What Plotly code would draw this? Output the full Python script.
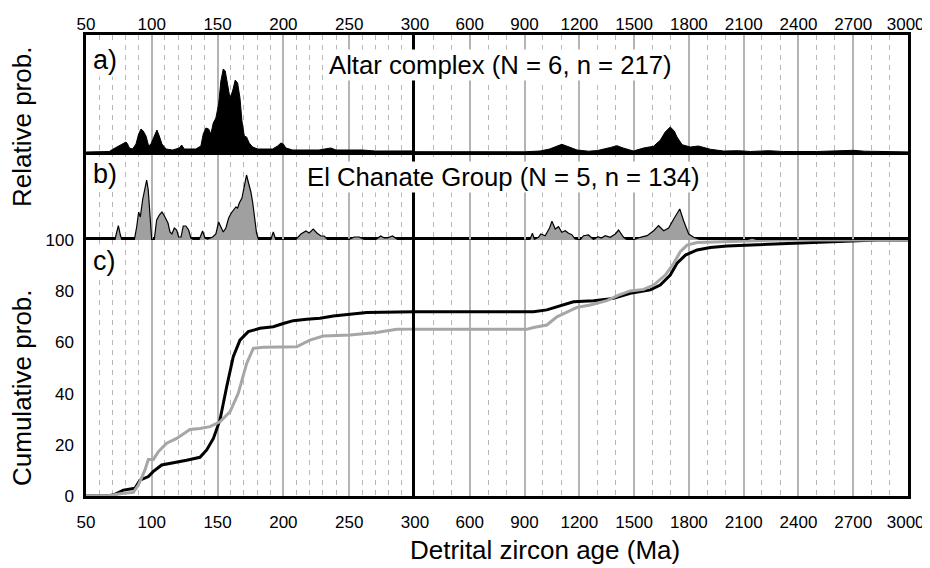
import plotly.graph_objects as go

# ---------------- data ----------------
LEFT_TICKS = [50, 100, 150, 200, 250, 300]
RIGHT_TICKS = [600, 900, 1200, 1500, 1800, 2100, 2400, 2700, 3000]
CUM_TICKS = [0, 20, 40, 60, 80, 100]

# a) Altar complex - relative probability (arbitrary units)
ALTAR_AGE = [50, 67.7, 70.3, 75.3, 77.8, 79.1, 80.4, 81.6, 82.9, 85.4,
             88.0, 90.0, 91.8, 93.5, 95.6, 97.6, 99.4, 101.9, 103.9, 105.7,
             107.7, 110.8, 115.8, 120.9, 122.7, 124.7, 128.5, 133.5, 137.3, 139.1,
             141.1, 143.2, 144.9, 146.7, 148.7, 150.8, 152.5, 154.3, 155.8, 157.6,
             159.4, 161.4, 163.4, 165.2, 167.0, 168.5, 170.3, 172.0, 174.0, 176.6,
             180.4, 186.7, 191.8, 195.6, 198.1, 199.9, 201.9, 207, 217, 227,
             236, 240, 250, 260, 270, 290, 300,
             900, 985, 1037, 1080, 1104, 1130, 1188, 1250, 1300, 1370,
             1406, 1440, 1496, 1552, 1606, 1643, 1670, 1698, 1720, 1735,
             1763, 1808, 1852, 1918, 1990, 2071, 2137, 2236, 2318, 2500,
             2650, 2702, 2760, 2850, 3000]
ALTAR_PDP = [0, 0.5, 2.7, 6, 8, 9, 10, 8, 4, 3,
             8, 18, 23, 21, 16, 6, 8, 16, 22, 16,
             8, 3, 2, 4, 7, 3, 3, 3, 6, 18,
             24, 23, 18, 29, 34, 48, 71, 83, 81, 68,
             54, 61, 72, 69, 54, 31, 16, 15, 9, 5,
             3, 3, 3, 6, 9, 8, 4, 2, 2, 2,
             4, 2, 2, 2, 1, 0.5, 0.3,
             0.2, 1, 3, 6, 7.7, 6, 2, 0.8, 1.5, 4.5,
             6.3, 4, 1, 4, 5.7, 11.7, 20, 25, 21, 15,
             7.3, 5, 6, 2.7, 1, 1.3, 0.5, 1.3, 0.5, 0.5,
             1, 1.7, 0.8, 0.3, 0.1]

# b) El Chanate Group - relative probability (arbitrary units)
CHAN_AGE = [50, 72.0, 72.8, 74.6, 76.1, 77.3, 86.7, 88.5, 90.0, 91.3,
            93.0, 94.8, 96.1, 97.3, 98.6, 99.9, 101.9, 103.7, 105.7, 107.7,
            109.2, 110.8, 112.3, 113.8, 115.3, 117.1, 118.9, 120.4, 122.2, 123.9,
            125.9, 128.0, 129.7, 132.3, 136.1, 138.6, 140.4, 142.4, 146.2, 148.7,
            150.8, 152.5, 154.3, 156.3, 158.4, 160.4, 162.2, 163.9, 165.2, 166.5,
            168.5, 170.3, 172.0, 173.5, 175.3, 176.6, 177.8, 179.6, 181.1, 190.5,
            192.3, 194.3, 209.5, 213.3, 217.1, 219.6, 222.7, 225.4, 228.5, 231.0,
            233.5, 250.0, 253.8, 257.6, 261.4, 270.3, 274.0, 276.6, 279.1, 282.9,
            286.7, 300,
            920, 930.7, 943, 954, 976, 989, 1013, 1037, 1050, 1068,
            1086, 1104, 1123, 1141, 1159, 1177, 1205, 1223, 1250, 1278,
            1302, 1320, 1342, 1369, 1397, 1415, 1442, 1461, 1497, 1534,
            1571, 1607, 1634, 1662, 1689, 1717, 1750, 1771, 1799, 1826,
            1863, 2119, 2146, 2174, 3000]
CHAN_PDP = [0, 0, 5, 14.3, 5, 0, 0, 13, 28, 23,
            40, 50, 60, 50, 25, 0.7, 0.7, 20, 25, 28,
            25, 21, 17, 8, 6, 12, 10, 3, 3, 14,
            14, 10, 2, 0, 0.7, 9, 2, 1, 3, 6,
            18, 13, 8, 12, 22, 27, 30, 33, 32, 37,
            42, 55, 65, 57, 48, 38, 27, 7, 0.7, 0.7,
            8, 0, 0.7, 6, 9, 7, 11, 7, 4, 4,
            0.7, 0.7, 3, 3, 0.7, 0.7, 4, 2, 2, 4,
            0.7, 0,
            0, 1, 6.7, 0.7, 2.7, 6, 4.3, 12, 18.7, 11,
            13.3, 7.7, 9.3, 6.7, 5.3, 1, 0.3, 4.3, 5, 0.5,
            3.3, 2, 4.3, 2.7, 6, 10, 2.7, 0.3, 0.3, 2.7,
            4.3, 9.3, 14.3, 9.3, 12, 21, 31, 19.3, 6, 2.7,
            0.3, 0.3, 2, 0.3, 0]

# c) cumulative probability (%)
ALTAR_CUM_AGE = [50, 65, 70.8, 78.4, 87.2, 91, 97.4, 101, 107.5, 116.3,
                 126.5, 136.6, 141.7, 146.8, 151.8, 156.9, 161.9, 167, 173.3, 182.2,
                 192.3, 199.9, 207.5, 217.7, 227.8, 237.9, 263.3, 300, 949, 1022,
                 1095, 1168, 1278, 1387, 1479, 1589, 1643, 1698, 1735, 1781,
                 1845, 1918, 2009, 2192, 2375, 2558, 2722, 2832, 3000]
ALTAR_CUM = [0, 0, 0.4, 2.3, 3, 6.2, 7.6, 9.5, 12.1, 13.1,
             14, 15.1, 18, 22.5, 29.7, 42.7, 54.4, 60.9, 64.2, 65.5,
             66.1, 67.4, 68.5, 69, 69.4, 70.3, 71.7, 72, 72, 72.7,
             74.2, 75.9, 76.3, 77.2, 79.2, 80.5, 82.4, 86.3, 90.9, 94.1,
             96.1, 97.1, 97.7, 98.2, 98.7, 99, 99.5, 100, 100]

CHAN_CUM_AGE = [50, 65, 70.8, 77.1, 86, 89.8, 94.8, 97.4, 101.2, 105,
                111.3, 118.9, 129, 136.6, 144.2, 151.8, 159.4, 165.7, 172.1, 177.1,
                184.7, 210, 220.2, 230.3, 250.6, 270.9, 286.1, 300, 912, 949,
                1022, 1077, 1132, 1187, 1260, 1351, 1415, 1479, 1552, 1607,
                1671, 1717, 1753, 1790, 1845, 2009, 2155, 2284, 3000]
CHAN_CUM = [0, 0, 0.4, 1, 1.4, 4.3, 10.2, 14.3, 14.3, 17.3,
            20.6, 22.5, 26, 26.4, 27.1, 29, 32.9, 40.1, 51.8, 57.7,
            58.1, 58.3, 60.9, 62.5, 62.9, 63.9, 65.1, 65.1, 65.1, 65.8,
            66.8, 70, 72, 73.7, 74.6, 76.3, 78.5, 80.1, 80.7, 82.4,
            86.3, 90.9, 95.4, 98, 99, 99.3, 99.6, 100, 100]

assert len(ALTAR_AGE) == len(ALTAR_PDP)
assert len(CHAN_AGE) == len(CHAN_PDP)
assert len(ALTAR_CUM_AGE) == len(ALTAR_CUM)
assert len(CHAN_CUM_AGE) == len(CHAN_CUM)

# ---------------- layout geometry ----------------
# the page body offsets the figure by 8px
OFF = 8
W, H = 930 - OFF, 568 - OFF
PL, PR, PT, PB = 86, 908, 35, 496       # plot frame in window pixels
ML, MR, MT, MB = PL - OFF, 930 - PR, PT - OFF, 568 - PB
PW = PR - PL
PH = PB - PT
XS = 329 / PW                 # split point (300 Ma)
DC = 256 / PH                 # top of panel c
DB = (256 + 88) / PH          # top of panel b

FONT = "Liberation Sans, Arial, sans-serif"
GRID = "#b4b4b4"
MINOR = "#b8b8b8"
GRAY = "#a6a6a6"
TICK = 17


def tick_text(vals):
    # the last label at the right edge is nudged left so it stays in the window
    out = [str(v) for v in vals]
    if vals[-1] == 3000:
        out[-1] = out[-1] + "\u00a0"
    return out


fig = go.Figure()

# panel a (x5/y5 left, x6/y6 right)
for xa, ya in (("x5", "y5"), ("x6", "y6")):
    fig.add_trace(go.Scatter(x=ALTAR_AGE, y=ALTAR_PDP, xaxis=xa, yaxis=ya,
                             mode="lines", fill="tozeroy", fillcolor="black",
                             line=dict(color="black", width=1), showlegend=False))
# panel b
for xa, ya in (("x3", "y3"), ("x4", "y4")):
    fig.add_trace(go.Scatter(x=CHAN_AGE, y=CHAN_PDP, xaxis=xa, yaxis=ya,
                             mode="lines", fill="tozeroy", fillcolor="#a0a0a0",
                             line=dict(color="black", width=1.2), showlegend=False))
# panel c
for xa, ya in (("x", "y"), ("x2", "y2")):
    fig.add_trace(go.Scatter(x=ALTAR_CUM_AGE, y=ALTAR_CUM, xaxis=xa, yaxis=ya,
                             mode="lines", line=dict(color="black", width=3),
                             showlegend=False))
    fig.add_trace(go.Scatter(x=CHAN_CUM_AGE, y=CHAN_CUM, xaxis=xa, yaxis=ya,
                             mode="lines", line=dict(color=GRAY, width=3),
                             showlegend=False))


def xax(left, anchor, side="bottom", labels=False, line=True, mirror=True,
        standoff=6):
    vals = LEFT_TICKS if left else RIGHT_TICKS
    return dict(
        domain=[0, XS] if left else [XS, 1],
        range=[50, 300] if left else [300, 3000],
        anchor=anchor, side=side,
        tickmode="array",
        tickvals=vals,
        ticktext=tick_text(vals),
        showticklabels=labels,
        ticks="",
        ticklabelstandoff=standoff,
        ticklabeloverflow="allow",
        tickfont=dict(size=TICK, color="black", family=FONT),
        showgrid=True, gridcolor=GRID, gridwidth=1.6,
        minor=dict(tickmode="linear", tick0=50 if left else 300,
                   dtick=10 if left else 100, showgrid=True,
                   gridcolor=MINOR, gridwidth=1, griddash="5px,5px", ticks=""),
        showline=line, mirror=mirror, linecolor="black", linewidth=2.5,
        zeroline=False, fixedrange=True, automargin=False,
    )


def yax(dom, anchor, rng, labels=False, mirror=False):
    d = dict(domain=dom, anchor=anchor, range=rng, showgrid=False, zeroline=False,
             showline=True, mirror=mirror, linecolor="black", linewidth=2.5,
             showticklabels=labels, ticks="", fixedrange=True, automargin=False)
    if labels:
        d.update(tickmode="array", tickvals=CUM_TICKS,
                 tickfont=dict(size=TICK, color="black", family=FONT),
                 ticklabelstandoff=6, ticklabeloverflow="allow")
    return d


fig.update_layout(
    width=W, height=H,
    margin=dict(l=ML, r=MR, t=MT, b=MB, pad=0),
    paper_bgcolor="white", plot_bgcolor="white",
    font=dict(family=FONT, color="black"),
    xaxis=xax(True, "y", "bottom", True, standoff=9),
    xaxis2=xax(False, "y2", "bottom", True, standoff=9),
    xaxis3=xax(True, "y3", line=False),
    xaxis4=xax(False, "y4", line=False),
    xaxis5=xax(True, "y5", "top", True, standoff=-5),
    xaxis6=xax(False, "y6", "top", True, standoff=-5),
    yaxis=yax([0, DC], "x", [0, 100], True),
    yaxis2=yax([0, DC], "x2", [0, 100], mirror=True),
    yaxis3=yax([DC, DB], "x3", [0, 88]),
    yaxis4=yax([DC, DB], "x4", [0, 88], mirror=True),
    yaxis5=yax([DB, 1], "x5", [0, 117]),
    yaxis6=yax([DB, 1], "x6", [0, 117], mirror=True),
)


def px_x(p):
    return (p - PL) / PW


def px_y(p):
    return (PB - p) / PH


ann = [
    dict(text="a)", x=px_x(91), y=px_y(60), xanchor="left", size=27),
    dict(text="b)", x=px_x(91), y=px_y(174), xanchor="left", size=27),
    dict(text="c)", x=px_x(91), y=px_y(261), xanchor="left", size=27),
    dict(text="Altar complex (N = 6, n = 217)", x=px_x(500), y=px_y(65),
         xanchor="center", size=25.7),
    dict(text="El Chanate Group (N = 5, n = 134)", x=px_x(503.5), y=px_y(177),
         xanchor="center", size=25.7),
]
for a in ann:
    fig.add_annotation(xref="paper", yref="paper", x=a["x"], y=a["y"],
                       xanchor=a["xanchor"], yanchor="middle", text=a["text"],
                       showarrow=False, bgcolor="white", borderpad=1,
                       font=dict(size=a["size"], color="black", family=FONT))

fig.add_annotation(xref="paper", yref="paper", x=px_x(22), y=px_y(127),
                   text="Relative prob.", textangle=-90, showarrow=False,
                   xanchor="center", yanchor="middle",
                   font=dict(size=26, color="black", family=FONT))
fig.add_annotation(xref="paper", yref="paper", x=px_x(22), y=px_y(388),
                   text="Cumulative prob.", textangle=-90, showarrow=False,
                   xanchor="center", yanchor="middle",
                   font=dict(size=26, color="black", family=FONT))
fig.add_annotation(xref="paper", yref="paper", x=px_x(545), y=px_y(550),
                   text="Detrital zircon age (Ma)", showarrow=False,
                   xanchor="center", yanchor="middle",
                   font=dict(size=26, color="black", family=FONT))

fig.write_html("out.html")
